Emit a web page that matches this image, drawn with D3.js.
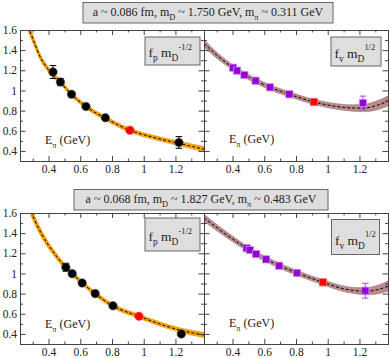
<!DOCTYPE html>
<html>
<head>
<meta charset="utf-8">
<script src="https://cdn.jsdelivr.net/npm/d3@7"></script>
<style>
body { margin: 0; background: #fff; }
svg text { font-family: "Liberation Serif", "Times New Roman", serif; fill: #222; }
</style>
</head>
<body>
<svg id="chart" width="390" height="358"></svg>
<script>
// tick values
var xMajor = [0.4, 0.6, 0.8, 1.0, 1.2];
var xMinor = [0.3, 0.5, 0.7, 0.9, 1.1, 1.3];
var yMajor = [0.4, 0.6, 0.8, 1.0, 1.2, 1.4, 1.6];
var yMinor = [0.5, 0.7, 0.9, 1.1, 1.3, 1.5];

var titles = [
    "a ~ 0.086 fm, m_{D} ~ 1.750 GeV, m_{π} ~ 0.311 GeV",
    "a ~ 0.068 fm, m_{D} ~ 1.827 GeV, m_{π} ~ 0.483 GeV"
];
var fpLabel = "f_{p} m_{D}^{-1/2}";
var fvLabel = "f_{v} m_{D}^{1/2}";
var xLabel = "E_{π} (GeV)";

// top ensemble, f_p
var fpTopE   = [0.428, 0.475, 0.545, 0.636, 0.758, 1.222];
var fpTop    = [1.183, 1.084, 0.962, 0.841, 0.729, 0.484];
var fpTopErr = [0.064, 0.035, 0.018, 0.016, 0.016, 0.058];
var fpTopRed = [0.913, 0.605];
var fpTopFitE = [0.26, 0.277, 0.313, 0.345, 0.40, 0.474, 0.544, 0.634, 0.758, 0.913, 1.06, 1.22, 1.38];
var fpTopFit  = [1.68, 1.61, 1.464, 1.34, 1.205, 1.084, 0.962, 0.843, 0.725, 0.605, 0.535, 0.475, 0.418];
var fpTopBand = [0.05, 0.045, 0.035, 0.03, 0.025, 0.022, 0.02, 0.02, 0.02, 0.02, 0.02, 0.022, 0.025];

// top ensemble, f_v
var fvTopE   = [0.403, 0.428, 0.475, 0.545, 0.636, 0.758, 1.222];
var fvTop    = [1.226, 1.197, 1.154, 1.097, 1.031, 0.962, 0.876];
var fvTopErr = [0.012, 0.012, 0.012, 0.012, 0.012, 0.014, 0.068];
var fvTopRed = [0.913, 0.886];
var fvTopFitE = [0.22, 0.304, 0.405, 0.477, 0.546, 0.636, 0.758, 0.913, 1.06, 1.14, 1.224, 1.31, 1.38];
var fvTopFit  = [1.468, 1.345, 1.226, 1.154, 1.097, 1.031, 0.962, 0.886, 0.84, 0.827, 0.825, 0.852, 0.895];
var fvTopBand = [0.035, 0.03, 0.025, 0.025, 0.025, 0.025, 0.025, 0.025, 0.028, 0.03, 0.035, 0.045, 0.05];

// bottom ensemble, f_p
var fpBotE   = [0.509, 0.549, 0.612, 0.694, 0.806, 1.237];
var fpBot    = [1.061, 0.998, 0.905, 0.80, 0.68, 0.40];
var fpBotErr = [0.04, 0.02, 0.015, 0.015, 0.015, 0.025];
var fpBotRed = [0.970, 0.575];
var fpBotFitE = [0.28, 0.294, 0.357, 0.441, 0.508, 0.55, 0.613, 0.693, 0.804, 0.97, 1.10, 1.235, 1.38];
var fpBotFit  = [1.66, 1.60, 1.39, 1.19, 1.061, 0.998, 0.905, 0.80, 0.68, 0.575, 0.50, 0.435, 0.39];
var fpBotBand = [0.05, 0.045, 0.035, 0.028, 0.024, 0.022, 0.02, 0.02, 0.02, 0.02, 0.02, 0.022, 0.025];

// bottom ensemble, f_v
var fvBotE   = [0.489, 0.509, 0.549, 0.612, 0.694, 0.806, 1.237];
var fvBot    = [1.25, 1.233, 1.193, 1.14, 1.077, 1.005, 0.829];
var fvBotErr = [0.012, 0.012, 0.012, 0.012, 0.012, 0.014, 0.074];
var fvBotRed = [0.970, 0.912];
var fvBotFitE = [0.22, 0.332, 0.489, 0.548, 0.611, 0.695, 0.808, 0.970, 1.10, 1.17, 1.239, 1.31, 1.38];
var fvBotFit  = [1.552, 1.418, 1.25, 1.193, 1.14, 1.077, 1.005, 0.912, 0.848, 0.83, 0.823, 0.838, 0.873];
var fvBotBand = [0.035, 0.03, 0.025, 0.025, 0.025, 0.025, 0.025, 0.025, 0.028, 0.03, 0.035, 0.042, 0.05];

var svg = d3.select("#chart");
var pw = 184, ph = 131;
var x = d3.scaleLinear().domain([0.22, 1.38]).range([0, pw]);
var y = d3.scaleLinear().domain([0.3, 1.6]).range([ph, 0]);

// text with _{sub} and ^{sup} pieces
function richText(sel, str, size) {
    var parts = str.split(/(_\{[^}]*\}|\^\{[^}]*\})/).filter(function(s) { return s.length; });
    var shift = 0;
    parts.forEach(function(p) {
        var txt = p, fs = size, target = 0;
        if (p[0] === "_") { txt = p.slice(2, -1); fs = size * 0.7; target = size * 0.3; }
        else if (p[0] === "^") { txt = p.slice(2, -1); fs = size * 0.62; target = -size * 0.55; }
        sel.append("tspan").attr("dy", target - shift).attr("font-size", fs).text(txt);
        shift = target;
    });
}

function addAxes(g, showY) {
    var specs = [
        [d3.axisBottom(x).tickValues(xMajor).tickSize(-5).tickPadding(4).tickFormat(d3.format("~g")), "translate(0," + ph + ")", true],
        [d3.axisBottom(x).tickValues(xMinor).tickSize(-2.5).tickFormat(""), "translate(0," + ph + ")", false],
        [d3.axisTop(x).tickValues(xMajor).tickSize(-5).tickFormat(""), null, false],
        [d3.axisTop(x).tickValues(xMinor).tickSize(-2.5).tickFormat(""), null, false],
        [d3.axisLeft(y).tickValues(yMajor).tickSize(-5.5).tickPadding(3).tickFormat(showY ? d3.format("~g") : ""), null, showY],
        [d3.axisLeft(y).tickValues(yMinor).tickSize(-3).tickFormat(""), null, false],
        [d3.axisRight(y).tickValues(yMajor).tickSize(-5.5).tickFormat(""), "translate(" + pw + ",0)", false],
        [d3.axisRight(y).tickValues(yMinor).tickSize(-3).tickFormat(""), "translate(" + pw + ",0)", false]
    ];
    specs.forEach(function(s) {
        var a = g.append("g").call(s[0]);
        if (s[1]) a.attr("transform", s[1]);
        a.attr("font-family", null).attr("font-size", null);
        a.selectAll("path, line").attr("stroke", "#444");
        a.selectAll("text").attr("font-size", 11.5).attr("fill", "#222");
    });
}

function drawPanel(px, py, id, opt) {
    var g = svg.append("g").attr("transform", "translate(" + px + "," + py + ")");
    g.append("clipPath").attr("id", "clip" + id)
        .append("rect").attr("width", pw).attr("height", ph);
    var fit = opt.fitE.map(function(e, i) { return { e: e, v: opt.fit[i], b: opt.band[i] }; });
    var plot = g.append("g").attr("clip-path", "url(#clip" + id + ")");

    plot.append("path").datum(fit)
        .attr("fill", opt.bandFill).attr("stroke", opt.bandStroke).attr("stroke-width", 0.6)
        .attr("d", d3.area().curve(d3.curveMonotoneX)
            .x(function(d) { return x(d.e); })
            .y0(function(d) { return y(d.v - d.b); })
            .y1(function(d) { return y(d.v + d.b); }));
    plot.append("path").datum(fit)
        .attr("fill", "none").attr("stroke", "#000").attr("stroke-width", 1)
        .attr("stroke-dasharray", "3,2")
        .attr("d", d3.line().curve(d3.curveMonotoneX)
            .x(function(d) { return x(d.e); })
            .y(function(d) { return y(d.v); }));

    var pts = opt.E.map(function(e, i) { return { e: e, v: opt.vals[i], err: opt.err[i] }; });
    var eb = plot.append("g").attr("stroke", opt.errColor).attr("stroke-width", 1);
    pts.forEach(function(d) {
        var x0 = x(d.e), y0 = y(d.v - d.err), y1 = y(d.v + d.err);
        eb.append("line").attr("x1", x0).attr("x2", x0).attr("y1", y0).attr("y2", y1);
        eb.append("line").attr("x1", x0 - 3.3).attr("x2", x0 + 3.3).attr("y1", y0).attr("y2", y0);
        eb.append("line").attr("x1", x0 - 3.3).attr("x2", x0 + 3.3).attr("y1", y1).attr("y2", y1);
    });

    var all = pts.map(function(d) { return { e: d.e, v: d.v, c: opt.fill, s: opt.stroke }; });
    all.push({ e: opt.red[0], v: opt.red[1], c: "#ff0000", s: "#ff6060" });
    if (opt.square) {
        plot.selectAll("rect.pt").data(all).enter().append("rect")
            .attr("x", function(d) { return x(d.e) - 3.6; })
            .attr("y", function(d) { return y(d.v) - 3.6; })
            .attr("width", 7.2).attr("height", 7.2)
            .attr("fill", function(d) { return d.c; })
            .attr("stroke", function(d) { return d.s; }).attr("stroke-width", 0.8);
    } else {
        plot.selectAll("circle.pt").data(all).enter().append("circle")
            .attr("cx", function(d) { return x(d.e); })
            .attr("cy", function(d) { return y(d.v); })
            .attr("r", 4.3)
            .attr("fill", function(d) { return d.c; })
            .attr("stroke", function(d) { return d.s; }).attr("stroke-width", 0.6);
    }

    addAxes(g, opt.showY);

    // label box
    var b = opt.box;
    g.append("rect").attr("x", b[0]).attr("y", b[1]).attr("width", b[2]).attr("height", b[3])
        .attr("fill", "#dedede").attr("stroke", "#666").attr("stroke-width", 1);
    var t = g.append("text").attr("x", b[0] + 3.5).attr("y", b[1] + b[4]);
    richText(t, opt.label, 13.5);

    var xl = g.append("text").attr("x", 25).attr("y", opt.xLabelY);
    richText(xl, xLabel, 12);
}

function drawTitle(bx, by, bw, bh, str) {
    svg.append("rect").attr("x", bx).attr("y", by).attr("width", bw).attr("height", bh)
        .attr("fill", "#dedede").attr("stroke", "#666").attr("stroke-width", 1);
    var t = svg.append("text").attr("x", bx + bw / 2).attr("y", by + bh / 2 + 3.5)
        .attr("text-anchor", "middle");
    richText(t, str, 12);
}

var orange = { bandFill: "#ffa500", bandStroke: "#d88a00", fill: "#000", stroke: "#666", errColor: "#000", square: false, showY: true };
var brown  = { bandFill: "#b98b8b", bandStroke: "#a57474", fill: "#9400d8", stroke: "#c58ee8", errColor: "#a64ae6", square: true, showY: false };

drawTitle(83, 2.5, 250, 20.5, titles[0]);
drawTitle(74, 189.5, 254, 20.5, titles[1]);

drawPanel(20, 30, "tl", Object.assign({}, orange, {
    E: fpTopE, vals: fpTop, err: fpTopErr, red: fpTopRed,
    fitE: fpTopFitE, fit: fpTopFit, band: fpTopBand,
    label: fpLabel, box: [125, 7, 55, 28, 20], xLabelY: 114
}));
drawPanel(204, 30, "tr", Object.assign({}, brown, {
    E: fvTopE, vals: fvTop, err: fvTopErr, red: fvTopRed,
    fitE: fvTopFitE, fit: fvTopFit, band: fvTopBand,
    label: fvLabel, box: [127, 7, 50, 29, 20.5], xLabelY: 113
}));
drawPanel(20, 213, "bl", Object.assign({}, orange, {
    E: fpBotE, vals: fpBot, err: fpBotErr, red: fpBotRed,
    fitE: fpBotFitE, fit: fpBotFit, band: fpBotBand,
    label: fpLabel, box: [125, 5, 55, 33, 23], xLabelY: 115
}));
drawPanel(204, 213, "br", Object.assign({}, brown, {
    E: fvBotE, vals: fvBot, err: fvBotErr, red: fvBotRed,
    fitE: fvBotFitE, fit: fvBotFit, band: fvBotBand,
    label: fvLabel, box: [127.5, 6.5, 48, 35, 25], xLabelY: 114
}));
</script>
</body>
</html>
